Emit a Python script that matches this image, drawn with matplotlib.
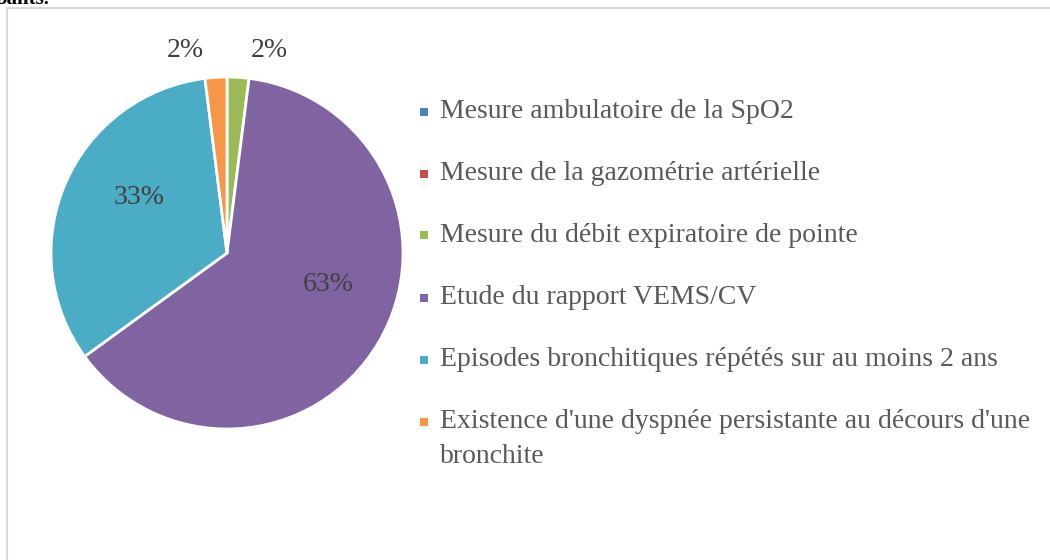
import matplotlib.pyplot as plt
from matplotlib.patches import Rectangle
import numpy as np

plt.rcParams['font.family'] = ['Liberation Serif', 'DejaVu Serif']

labels = ['Mesure ambulatoire de la SpO2',
          'Mesure de la gazométrie artérielle',
          'Mesure du débit expiratoire de pointe',
          'Etude du rapport VEMS/CV',
          'Episodes bronchitiques répétés sur au moins 2 ans',
          "Existence d'une dyspnée persistante au décours d'une\nbronchite"]
values = [0, 0, 2, 63, 33, 2]
colors = ['#4F81BD', '#C0504D', '#9BBB59', '#8064A2', '#4BACC6', '#F79646']
# angle nudge (degrees) for each data label, as Excel's best fit places them
nudge = [0, 0, -8, 15, -10, 8]

W, H = 1050, 560
fig = plt.figure(figsize=(W / 100, H / 100), dpi=100)

# chart frame
fig.patches.append(Rectangle((7 / W, -0.05), 1.2, 1 - 8 / H + 0.05,
                             transform=fig.transFigure, fill=False,
                             edgecolor='#D9D9D9', linewidth=1.5))
# cut-off caption text above the chart
fig.text(-0.004, 1 - 4 / H, 'bants.', fontsize=15, fontweight='bold',
         color='black', va='baseline')

cx, cy, r = 227, 253, 176
ax = fig.add_axes([(cx - r) / W, (H - cy - r) / H, 2 * r / W, 2 * r / H])

wedges, texts = ax.pie(values, colors=colors, startangle=90, counterclock=False,
                       wedgeprops=dict(edgecolor='white', linewidth=2))
ax.set_xlim(-1, 1)
ax.set_ylim(-1, 1)

total = sum(values)
start = 90.0
for v, nd in zip(values, nudge):
    ang = 360.0 * v / total
    mid = (start - ang / 2) % 360
    start -= ang
    if v == 0:
        continue
    pct = '%d%%' % round(100.0 * v / total)
    d = 0.6 if v / total > 0.1 else 1.19
    a = np.deg2rad(mid + nd)
    ax.text(d * np.cos(a), d * np.sin(a), pct, ha='center', va='center_baseline',
            fontsize=20, color='#404040')

# legend, drawn by hand so the wrapped entry keeps its marker on the first line
leg_x, leg_y, row, line_h = 440, 118, 62, 35
for i, (lab, c) in enumerate(zip(labels, colors)):
    base = leg_y + i * row
    for j, part in enumerate(lab.split('\n')):
        fig.text(leg_x / W, 1 - (base + j * line_h) / H, part, fontsize=20,
                 color='#595959', va='baseline', ha='left')
    fig.patches.append(Rectangle((420 / W, 1 - (base - 2.5) / H), 8 / W, 8 / H,
                                 transform=fig.transFigure, facecolor=c,
                                 edgecolor='none'))

fig.savefig('out.png', dpi=100)
